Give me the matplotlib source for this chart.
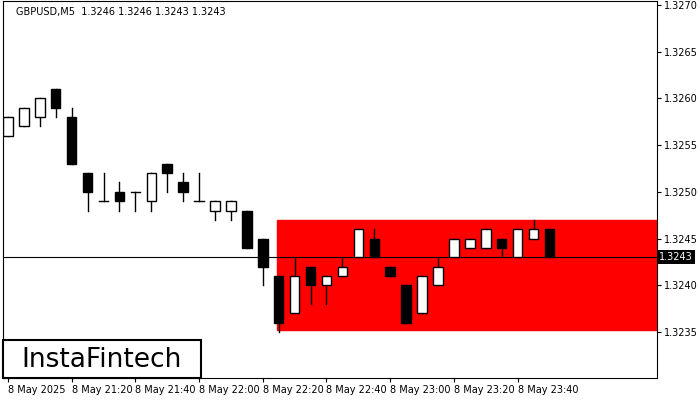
import matplotlib
matplotlib.use('Agg')
import matplotlib.pyplot as plt
from matplotlib.patches import Rectangle

# --- DATA (GBPUSD M5) ---
opens = [1.3256, 1.3257, 1.3258, 1.3261, 1.3258, 1.3252, 1.3249, 1.3250, 1.3250, 1.3249,
         1.3253, 1.3251, 1.3249, 1.3248, 1.3248, 1.3248, 1.3245, 1.3241, 1.3237, 1.3242,
         1.3240, 1.3241, 1.3243, 1.3245, 1.3242, 1.3240, 1.3237, 1.3240, 1.3243, 1.3244,
         1.3244, 1.3245, 1.3243, 1.3245, 1.3246]
closes = [1.3258, 1.3259, 1.3260, 1.3259, 1.3253, 1.3250, 1.3249, 1.3249, 1.3250, 1.3252,
          1.3252, 1.3250, 1.3249, 1.3249, 1.3249, 1.3244, 1.3242, 1.3236, 1.3241, 1.3240,
          1.3241, 1.3242, 1.3246, 1.3243, 1.3241, 1.3236, 1.3241, 1.3242, 1.3245, 1.3245,
          1.3246, 1.3244, 1.3246, 1.3246, 1.3243]
highs = [1.3258, 1.3259, 1.3260, 1.3261, 1.3259, 1.3252, 1.3252, 1.3251, 1.3250, 1.3252,
         1.3253, 1.3252, 1.3252, 1.3249, 1.3249, 1.3248, 1.3245, 1.3241, 1.3243, 1.3242,
         1.3241, 1.3243, 1.3246, 1.3246, 1.3242, 1.3240, 1.3241, 1.3243, 1.3245, 1.3245,
         1.3246, 1.3245, 1.3246, 1.3247, 1.3246]
lows = [1.3256, 1.3257, 1.3257, 1.3258, 1.3253, 1.3248, 1.3249, 1.3248, 1.3248, 1.3248,
        1.3250, 1.3249, 1.3249, 1.3247, 1.3247, 1.3244, 1.3240, 1.3235, 1.3237, 1.3238,
        1.3238, 1.3241, 1.3243, 1.3243, 1.3241, 1.3236, 1.3237, 1.3240, 1.3243, 1.3244,
        1.3244, 1.3243, 1.3243, 1.3245, 1.3243]
time_labels = ["8 May 2025", "8 May 21:20", "8 May 21:40", "8 May 22:00", "8 May 22:20",
               "8 May 22:40", "8 May 23:00", "8 May 23:20", "8 May 23:40"]
price_ticks = [1.3235, 1.3240, 1.3245, 1.3250, 1.3255, 1.3260, 1.3265, 1.3270]
zone_top, zone_bottom, zone_start = 1.3247, 1.32352, 16.9
last_price = 1.3243

fig = plt.figure(figsize=(7, 4), dpi=100)
ax = fig.add_axes([3 / 700, 22 / 400, 654 / 700, 377 / 400])
ax.set_xlim(-0.31, 40.75)
ax.set_ylim(1.32301, 1.32704)

ax.add_patch(Rectangle((zone_start, zone_bottom), 41 - zone_start, zone_top - zone_bottom,
                       color='red', zorder=1))
ax.axhline(last_price, color='black', lw=0.8, zorder=2)

w = 0.6
for i, (o, c, h, l) in enumerate(zip(opens, closes, highs, lows)):
    ax.plot([i, i], [l, h], color='black', lw=1, zorder=3)
    lo, hi = min(o, c), max(o, c)
    face = 'white' if c > o else 'black'
    if hi - lo < 1e-6:
        ax.plot([i - w / 2, i + w / 2], [o, o], color='black', lw=1, zorder=4)
    else:
        ax.add_patch(Rectangle((i - w / 2, lo), w, hi - lo, facecolor=face,
                               edgecolor='black', lw=1, zorder=4))

ax.yaxis.tick_right()
ax.set_yticks(price_ticks)
ax.set_yticklabels([f"{p:.4f}" for p in price_ticks], fontsize=7)
ax.set_xticks(range(0, 33, 4))
ax.set_xticklabels(time_labels, fontsize=7, ha='left')
ax.tick_params(length=3, pad=2)
ax.text(1.003, last_price, "1.3243", transform=ax.get_yaxis_transform(),
        fontsize=7, color='white', va='center', ha='left',
        bbox=dict(facecolor='black', edgecolor='none', pad=1.5))

ax.text(0.02, 0.985, "GBPUSD,M5  1.3246 1.3246 1.3243 1.3243", transform=ax.transAxes,
        fontsize=7, va='top')

# logo box
fig.patches.append(Rectangle((3 / 700, 22 / 400), 198 / 700, 38 / 400, transform=fig.transFigure,
                             facecolor='white', edgecolor='black', lw=1.5, zorder=10))
fig.text(102 / 700, 1 - 360 / 400, "InstaFintech", fontsize=19, ha='center', va='center',
         zorder=11)

fig.savefig("out.png", dpi=100)
